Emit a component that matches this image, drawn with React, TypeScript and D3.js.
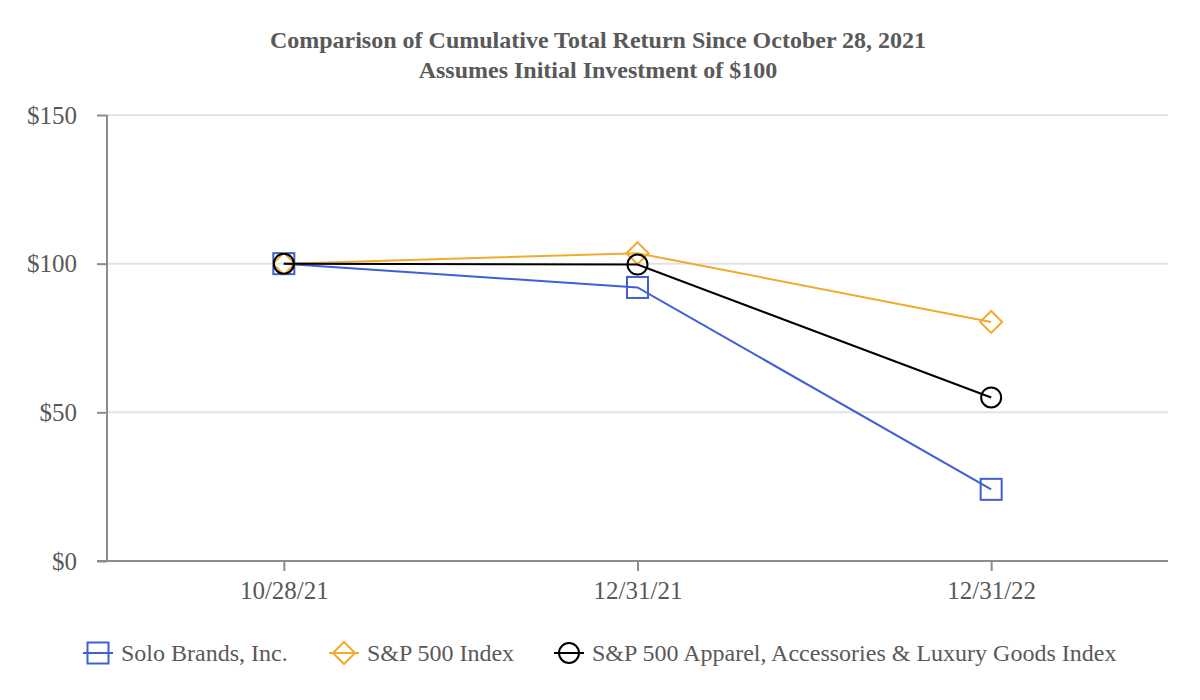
import { useRef, useEffect } from 'react';
import * as d3 from 'd3';

const dates = ['10/28/21', '12/31/21', '12/31/22'];
const soloBrands = [100, 92.0, 24.1];
const sp500 = [100, 103.5, 80.4];
const apparelIndex = [100, 99.7, 55.0];
const yTicks = [0, 50, 100, 150];

const seriesNames = ['Solo Brands, Inc.', 'S&P 500 Index', 'S&P 500 Apparel, Accessories & Luxury Goods Index'];
const seriesColors = ['#3f5fd6', '#f0aa2c', '#000000'];
const seriesShapes = ['square', 'diamond', 'circle'];
const seriesValues = [soloBrands, sp500, apparelIndex];

const WIDTH = 1200;
const HEIGHT = 700;
const textColor = '#595959';
const fontFamily = '"Liberation Serif", "Times New Roman", serif';

function marker(g: d3.Selection<SVGGElement, unknown, null, undefined>, shape: string, x: number, y: number, color: string) {
  if (shape === 'square') {
    g.append('rect')
      .attr('x', x - 10.5).attr('y', y - 10.5)
      .attr('width', 21).attr('height', 21)
      .attr('fill', 'none').attr('stroke', color).attr('stroke-width', 2);
  } else if (shape === 'diamond') {
    g.append('path')
      .attr('d', `M${x},${y - 11}L${x + 11},${y}L${x},${y + 11}L${x - 11},${y}Z`)
      .attr('fill', 'none').attr('stroke', color).attr('stroke-width', 2);
  } else {
    g.append('circle')
      .attr('cx', x).attr('cy', y).attr('r', 10)
      .attr('fill', 'none').attr('stroke', color).attr('stroke-width', 2);
  }
}

const App = () => {
  const svgRef = useRef<SVGSVGElement>(null);

  useEffect(() => {
    if (!svgRef.current) return;
    const svg = d3.select(svgRef.current);
    svg.selectAll('*').remove();

    const left = 107, right = 1168, top = 115, bottom = 561;

    const x = d3.scalePoint<string>().domain(dates).range([left, right]).padding(0.5);
    const y = d3.scaleLinear().domain([0, 150]).range([bottom, top]);

    // title
    const title = svg.append('g')
      .attr('font-family', fontFamily)
      .attr('font-weight', 'bold')
      .attr('font-size', 24)
      .attr('fill', textColor)
      .attr('text-anchor', 'middle');
    title.append('text').attr('x', 598).attr('y', 48).text('Comparison of Cumulative Total Return Since October 28, 2021');
    title.append('text').attr('x', 598).attr('y', 78).text('Assumes Initial Investment of $100');

    // grid lines
    svg.append('g')
      .selectAll('line')
      .data(yTicks.filter(t => t > 0))
      .enter()
      .append('line')
      .attr('x1', left).attr('x2', right)
      .attr('y1', d => y(d)).attr('y2', d => y(d))
      .attr('stroke', '#e3e3e3').attr('stroke-width', 2);

    // y axis
    const yAxis = svg.append('g')
      .attr('transform', `translate(${left},0)`)
      .call(d3.axisLeft(y).tickValues(yTicks).tickSize(10).tickPadding(20).tickFormat(d => `$${d}`));
    yAxis.select('.domain').attr('stroke', '#8c8c8c').attr('stroke-width', 2).attr('d', `M0,${top}V${bottom}`);
    yAxis.selectAll('.tick line').attr('stroke', '#8c8c8c').attr('stroke-width', 2);
    yAxis.selectAll('.tick text')
      .attr('font-family', fontFamily).attr('font-size', 25).attr('fill', textColor);

    // x axis
    const xAxis = svg.append('g')
      .attr('transform', `translate(0,${bottom})`)
      .call(d3.axisBottom(x).tickSize(10).tickPadding(10));
    xAxis.select('.domain').attr('stroke', '#8c8c8c').attr('stroke-width', 2).attr('d', `M${left - 10},0H${right}`);
    xAxis.selectAll('.tick line').attr('stroke', '#8c8c8c').attr('stroke-width', 2);
    xAxis.selectAll('.tick text')
      .attr('font-family', fontFamily).attr('font-size', 25).attr('fill', textColor);

    // series
    const line = d3.line<number>()
      .x((_, i) => x(dates[i]) as number)
      .y(d => y(d));

    seriesValues.forEach((values, si) => {
      const g = svg.append('g');
      g.append('path')
        .datum(values)
        .attr('d', line)
        .attr('fill', 'none')
        .attr('stroke', seriesColors[si])
        .attr('stroke-width', 2);
      values.forEach((v, i) => marker(g, seriesShapes[si], x(dates[i]) as number, y(v), seriesColors[si]));
    });

    // legend
    const legendX = [98, 344, 569];
    const legendY = 653;
    seriesNames.forEach((name, si) => {
      const g = svg.append('g');
      const cx = legendX[si];
      g.append('line')
        .attr('x1', cx - 15).attr('x2', cx + 15)
        .attr('y1', legendY).attr('y2', legendY)
        .attr('stroke', seriesColors[si]).attr('stroke-width', 2);
      marker(g, seriesShapes[si], cx, legendY, seriesColors[si]);
      g.append('text')
        .attr('x', cx + 23)
        .attr('y', legendY)
        .attr('dy', '0.33em')
        .attr('font-family', fontFamily)
        .attr('font-size', 24)
        .attr('fill', textColor)
        .text(name);
    });
  }, []);

  return (
    <svg
      ref={svgRef}
      width={WIDTH}
      height={HEIGHT}
      style={{ position: 'absolute', left: 0, top: 0, background: '#fff' }}
    />
  );
};

export default App;
